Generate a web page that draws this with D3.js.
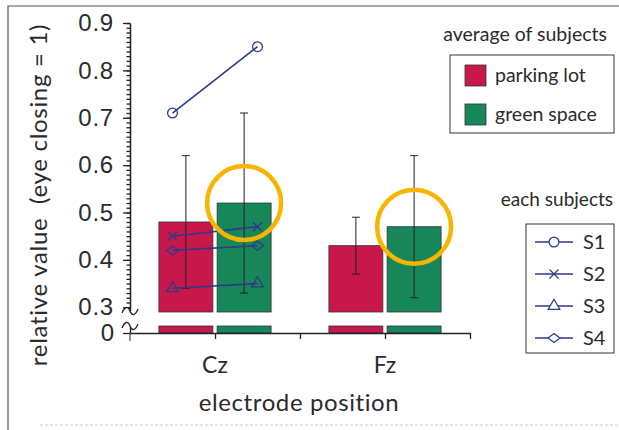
<!DOCTYPE html>
<html lang="en">
	<head>
		<meta charset="utf-8">
		<title>Relative value by electrode position</title>
		<script type="text/javascript" src="https://d3js.org/d3.v7.min.js"></script>
		<style type="text/css">
			body { margin: 0; background: white; }
			svg { display: block; }
			.lbl { font-family: Lato, "Noto Sans", sans-serif; fill: #2b2b2b; }
			.num { font-family: "Liberation Sans", Arial, sans-serif; fill: #2b2b2b; }
		</style>
	</head>
	<body>
		<svg id="escenario" width="619" height="430"></svg>
		<script type="text/javascript">
			// data
			const electrodes = ["Cz", "Fz"];
			const electrodePos = [1, 3];
			const conditions = ["parking lot", "green space"];
			const meanParking = [0.48, 0.43];
			const meanGreen = [0.52, 0.47];
			const sdParking = [0.14, 0.06];
			const sdGreen = [0.19, 0.15];
			const subjects = ["S1", "S2", "S3", "S4"];
			const subjParking = [0.71, 0.45, 0.34, 0.42];   // Cz only
			const subjGreen = [0.85, 0.47, 0.35, 0.43];
			const yTicks = [0.3, 0.4, 0.5, 0.6, 0.7, 0.8, 0.9];

			const red = "#c8174a", green = "#17875a", navy = "#2e3a86", gold = "#f7b500";

			const svg = d3.select("#escenario");

			// scales (broken axis: upper part + small stub near 0)
			const x = d3.scaleLinear().domain([0, 4]).range([130, 470]);
			const y = d3.scaleLinear().domain([0.29, 0.9]).range([312, 23]);
			const yLow = d3.scaleLinear().domain([0, 0.015]).range([333, 326]);

			// frame
			svg.append("path").attr("d", "M 8 430 L 8 6 L 619 6")
				.attr("fill", "none").attr("stroke", "#555").attr("stroke-width", 1.2);
			svg.append("line").attr("x1", 40).attr("x2", 619).attr("y1", 425).attr("y2", 425)
				.attr("stroke", "#ccc").attr("stroke-dasharray", "3,2");

			const barW = 0.635, gap = 0.025;
			const bars = [];
			electrodePos.forEach((p, i) => {
				bars.push({ x0: p - gap - barW, v: meanParking[i], sd: sdParking[i], c: red });
				bars.push({ x0: p + gap, v: meanGreen[i], sd: sdGreen[i], c: green });
			});

			const g = svg.append("g");

			// upper bar parts
			g.selectAll("rect.up").data(bars).enter().append("rect")
				.attr("class", "up")
				.attr("x", d => x(d.x0))
				.attr("width", d => x(d.x0 + barW) - x(d.x0))
				.attr("y", d => y(d.v))
				.attr("height", d => y(0.29) - y(d.v))
				.attr("fill", d => d.c).attr("stroke", "#333").attr("stroke-width", 0.8);

			// stub near zero
			g.selectAll("rect.low").data(bars).enter().append("rect")
				.attr("class", "low")
				.attr("x", d => x(d.x0))
				.attr("width", d => x(d.x0 + barW) - x(d.x0))
				.attr("y", yLow(0.015))
				.attr("height", yLow(0) - yLow(0.015))
				.attr("fill", d => d.c).attr("stroke", "#333").attr("stroke-width", 0.8);

			// error bars
			const eb = g.selectAll("g.err").data(bars).enter().append("g").attr("class", "err");
			eb.append("line")
				.attr("x1", d => x(d.x0 + barW / 2)).attr("x2", d => x(d.x0 + barW / 2))
				.attr("y1", d => y(d.v - d.sd)).attr("y2", d => y(d.v + d.sd))
				.attr("stroke", "#222").attr("stroke-width", 1);
			[-1, 1].forEach(s => {
				eb.append("line")
					.attr("x1", d => x(d.x0 + barW / 2) - 4).attr("x2", d => x(d.x0 + barW / 2) + 4)
					.attr("y1", d => y(d.v + s * d.sd)).attr("y2", d => y(d.v + s * d.sd))
					.attr("stroke", "#222").attr("stroke-width", 1);
			});

			// markers
			const timesPath = "M-4.5,-4.5L4.5,4.5M-4.5,4.5L4.5,-4.5";
			const sym = [
				d3.symbol().type(d3.symbolCircle).size(75)(),
				timesPath,
				d3.symbol().type(d3.symbolTriangle).size(60)(),
				"M-6,0L0,-4.5L6,0L0,4.5Z"
			];

			// subject lines (Cz)
			const cz = electrodePos[0];
			subjects.forEach((s, i) => {
				const pts = [[cz - 0.5, subjParking[i]], [cz + 0.5, subjGreen[i]]];
				g.append("path")
					.attr("d", d3.line().x(d => x(d[0])).y(d => y(d[1]))(pts))
					.attr("fill", "none").attr("stroke", navy).attr("stroke-width", 1.6);
				g.selectAll(null).data(pts).enter().append("path")
					.attr("d", sym[i])
					.attr("transform", d => `translate(${x(d[0])},${y(d[1])})`)
					.attr("fill", "none").attr("stroke", navy).attr("stroke-width", 1.3);
			});

			// y axis upper
			const yAxis = svg.append("g").attr("transform", "translate(130,0)")
				.call(d3.axisLeft(y).tickValues(yTicks).tickFormat(d3.format(".1f"))
					.tickSize(7).tickSizeOuter(0).tickPadding(9));
			yAxis.append("g").call(d3.axisLeft(y).tickValues(d3.range(30, 91).map(v => v / 100))
				.tickSize(3.5).tickSizeOuter(0).tickFormat(""));
			yAxis.selectAll("text").attr("class", "num").style("font-size", "24px")
				.style("letter-spacing", "0.8px").attr("fill", null);

			// y axis lower
			const yAxisLow = svg.append("g").attr("transform", "translate(130,0)")
				.call(d3.axisLeft(yLow).tickValues([0]).tickFormat(d3.format("d"))
					.tickSize(7).tickSizeOuter(0).tickPadding(9));
			yAxisLow.selectAll("text").attr("class", "num").style("font-size", "24px").attr("fill", null);
			svg.append("line").attr("x1", 130).attr("x2", 130).attr("y1", yLow(0)).attr("y2", yLow(0) + 8)
				.attr("stroke", "#222");

			svg.selectAll(".domain, .tick line").attr("stroke", "#222").attr("stroke-width", 1.3);

			// axis break marks
			const squiggle = "M-8,2 C-5,-5 -2,-5 0,0 C2,5 5,5 8,-2";
			[y(0.29) - 1, yLow(0.015)].forEach(v => {
				svg.append("path").attr("d", squiggle)
					.attr("transform", `translate(130,${v})`)
					.attr("fill", "white").attr("stroke", "#222").attr("stroke-width", 1.3);
			});

			// x axis
			const xAxis = svg.append("g").attr("transform", `translate(0,${yLow(0)})`)
				.call(d3.axisBottom(x).tickValues([1, 2, 3, 4]).tickSize(6).tickSizeOuter(0).tickFormat(""));
			xAxis.selectAll(".domain, .tick line").attr("stroke", "#222").attr("stroke-width", 1.3);

			svg.selectAll("text.cat").data(electrodes).enter().append("text")
				.attr("class", "lbl cat")
				.attr("x", (d, i) => x(electrodePos[i]))
				.attr("y", 373)
				.attr("text-anchor", "middle")
				.style("font-size", "23px")
				.text(d => d);

			// axis titles
			svg.append("text").attr("class", "lbl")
				.attr("transform", "translate(47,195) rotate(-90)")
				.attr("text-anchor", "middle")
				.style("font-size", "24px").style("letter-spacing", "0.7px").style("white-space", "pre")
				.text("relative value  (eye closing = 1)");
			svg.append("text").attr("class", "lbl")
				.attr("x", 299).attr("y", 411)
				.attr("text-anchor", "middle")
				.style("font-size", "24px").style("letter-spacing", "0.6px")
				.text("electrode position");

			// highlight circles
			svg.selectAll("circle.hl").data([0, 1]).enter().append("circle")
				.attr("class", "hl")
				.attr("cx", i => x(electrodePos[i] + gap + barW / 2))
				.attr("cy", i => y(meanGreen[i]))
				.attr("r", 37)
				.attr("fill", "none").attr("stroke", gold).attr("stroke-width", 4.5);

			// legend: averages
			svg.append("text").attr("class", "lbl").attr("x", 607).attr("y", 41)
				.attr("text-anchor", "end").style("font-size", "19.5px").text("average of subjects");
			svg.append("rect").attr("x", 450).attr("y", 55).attr("width", 164).attr("height", 78)
				.attr("fill", "white").attr("stroke", "#333").attr("stroke-width", 1);
			const leg1 = svg.selectAll("g.leg1").data(conditions).enter().append("g")
				.attr("class", "leg1")
				.attr("transform", (d, i) => `translate(465,${65 + i * 39})`);
			leg1.append("rect").attr("width", 21).attr("height", 21)
				.attr("fill", (d, i) => i ? green : red).attr("stroke", "#333").attr("stroke-width", 0.8);
			leg1.append("text").attr("class", "lbl").attr("x", 30).attr("y", 17)
				.style("font-size", "19.5px").text(d => d);

			// legend: subjects
			svg.append("text").attr("class", "lbl").attr("x", 613).attr("y", 206)
				.attr("text-anchor", "end").style("font-size", "19px").text("each subjects");
			svg.append("rect").attr("x", 526).attr("y", 224).attr("width", 88).attr("height", 129)
				.attr("fill", "white").attr("stroke", "#333").attr("stroke-width", 1);
			const leg2 = svg.selectAll("g.leg2").data(subjects).enter().append("g")
				.attr("class", "leg2")
				.attr("transform", (d, i) => `translate(554,${242 + i * 32})`);
			leg2.append("line").attr("x1", -19).attr("x2", 19)
				.attr("stroke", navy).attr("stroke-width", 1.4);
			leg2.append("path").attr("d", (d, i) => sym[i])
				.attr("fill", "white").attr("stroke", navy).attr("stroke-width", 1.2);
			leg2.append("text").attr("class", "lbl").attr("x", 29).attr("y", 7)
				.style("font-size", "20px").text(d => d);
		</script>
	</body>
</html>
